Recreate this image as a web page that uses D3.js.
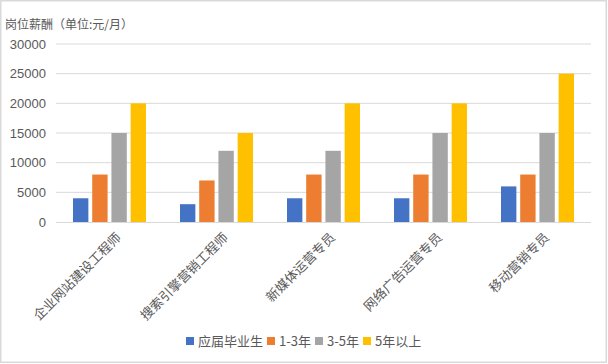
<!DOCTYPE html>
<html lang="zh">
<head>
<meta charset="UTF-8" />
<title>岗位薪酬</title>
<script src="https://d3js.org/d3.v7.min.js"></script>
<style>
  body { margin: 0; background: #fff; }
  text { font-family: "Noto Sans CJK SC", "Liberation Sans", sans-serif; fill: #595959; }
</style>
</head>
<body>
<div id="chart"></div>
<script>
var w = 608, h = 364;
var categories = ["企业网站建设工程师", "搜索引擎营销工程师", "新媒体运营专员", "网络广告运营专员", "移动营销专员"];
var seriesNames = ["应届毕业生", "1-3年", "3-5年", "5年以上"];
var freshGrad = [4000, 3000, 4000, 4000, 6000];
var years1to3 = [8000, 7000, 8000, 8000, 8000];
var years3to5 = [15000, 12000, 12000, 15000, 15000];
var years5plus = [20000, 15000, 20000, 20000, 25000];
var yTicks = [0, 5000, 10000, 15000, 20000, 25000, 30000];
var colors = ["#4472C4", "#ED7D31", "#A5A5A5", "#FFC000"];

var series = [freshGrad, years1to3, years3to5, years5plus];

var svg = d3.select("#chart").append("svg")
    .attr("width", w)
    .attr("height", h);

// outer frame
svg.append("rect")
    .attr("x", 0.75).attr("y", 0.75)
    .attr("width", 605.5).attr("height", 361.5)
    .attr("fill", "#fff")
    .attr("stroke", "#d9d9d9")
    .attr("stroke-width", 1.5);

var x0 = d3.scaleBand().domain(categories).range([56, 591]);
var x1 = d3.scaleBand().domain(d3.range(4)).range([0, 73]).paddingInner(0.2);
var y = d3.scaleLinear().domain([0, 30000]).range([222, 44]);

// gridlines
svg.append("g")
    .selectAll("line")
    .data(yTicks.slice(1))
    .enter().append("line")
    .attr("x1", 56).attr("x2", 591)
    .attr("y1", function (d) { return y(d); })
    .attr("y2", function (d) { return y(d); })
    .attr("stroke", "#d9d9d9")
    .attr("stroke-width", 1);

// y axis labels
var yAxis = d3.axisLeft(y).tickValues(yTicks).tickFormat(d3.format("d")).tickSize(0).tickPadding(10);
var yg = svg.append("g").attr("transform", "translate(56,0)").call(yAxis);
yg.select(".domain").remove();
yg.selectAll("text")
    .style("font-size", "13px")
    .style("font-family", "'Liberation Sans', sans-serif")
    .attr("fill", "#595959");

// bars
var groups = svg.append("g").selectAll("g")
    .data(categories)
    .enter().append("g")
    .attr("transform", function (d) { return "translate(" + (x0(d) + (x0.bandwidth() - 73) / 2) + ",0)"; });

groups.selectAll("rect")
    .data(function (d, i) { return series.map(function (s, j) { return { k: j, v: s[i] }; }); })
    .enter().append("rect")
    .attr("x", function (d) { return x1(d.k); })
    .attr("width", x1.bandwidth())
    .attr("y", function (d) { return y(d.v); })
    .attr("height", function (d) { return y(0) - y(d.v); })
    .attr("fill", function (d) { return colors[d.k]; });

// x axis baseline
svg.append("line")
    .attr("x1", 56).attr("x2", 591)
    .attr("y1", 222.5).attr("y2", 222.5)
    .attr("stroke", "#d9d9d9")
    .attr("stroke-width", 1.2);

// category labels, rotated
svg.append("g").selectAll("text")
    .data(categories)
    .enter().append("text")
    .attr("transform", function (d) {
        var cx = x0(d) + x0.bandwidth() / 2 + 5;
        return "translate(" + cx + ",231) rotate(-45)";
    })
    .attr("text-anchor", "end")
    .attr("dy", "0.8em")
    .style("font-size", "13px")
    .text(function (d) { return d; });

// title
svg.append("text")
    .attr("x", 5).attr("y", 29)
    .style("font-size", "12px")
    .text("岗位薪酬（单位:元/月）");

// legend
var legendX = [186, 267, 315, 363];
var legend = svg.append("g").selectAll("g")
    .data(seriesNames)
    .enter().append("g")
    .attr("transform", function (d, i) { return "translate(" + legendX[i] + ",337)"; });
legend.append("rect")
    .attr("width", 8).attr("height", 8)
    .attr("fill", function (d, i) { return colors[i]; });
legend.append("text")
    .attr("x", 12).attr("y", 9)
    .style("font-size", "13px")
    .text(function (d) { return d; });
</script>
</body>
</html>
